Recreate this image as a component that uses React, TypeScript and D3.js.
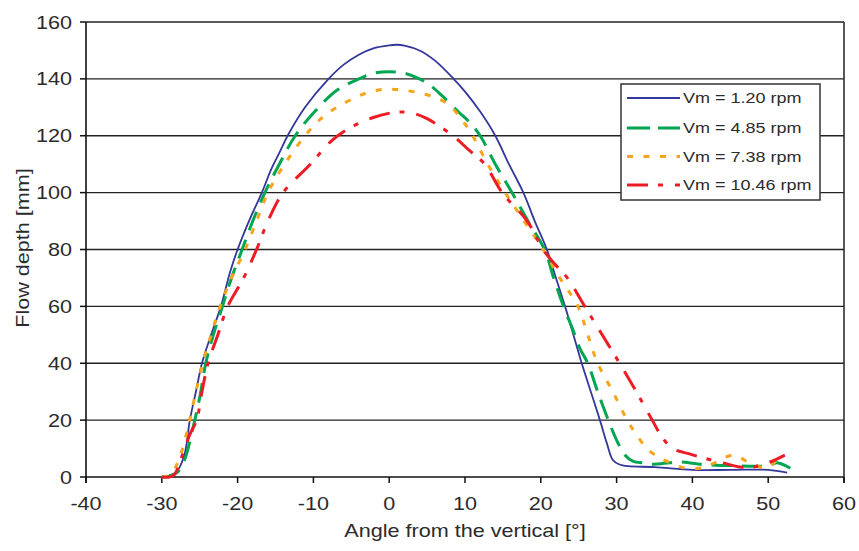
import React from "react";
import * as d3 from "d3";

const xTicks = [-40, -30, -20, -10, 0, 10, 20, 30, 40, 50, 60];
const yTicks = [0, 20, 40, 60, 80, 100, 120, 140, 160];

const seriesNames = ["Vm = 1.20 rpm", "Vm = 4.85 rpm", "Vm = 7.38 rpm", "Vm = 10.46 rpm"];

const vm120: [number, number][] = [
  [-30, 0], [-29, 0.5], [-28, 2], [-27, 8], [-26.3, 20], [-25.5, 30], [-24.7, 40], [-23.5, 50],
  [-22.2, 60], [-21, 72], [-20, 80], [-18.5, 90], [-16.8, 100], [-15.6, 108], [-14.5, 114],
  [-13.4, 120], [-11.1, 130], [-8, 140], [-6, 145], [-4, 148.5], [-2, 150.8], [0, 151.8],
  [1, 152], [2, 151.7], [4, 150], [6, 146.5], [8.5, 140], [10, 135.5], [12, 128.5],
  [14, 120], [15.8, 110], [17.7, 100], [19.2, 90], [20.8, 80], [22, 70], [23.2, 60],
  [24.3, 50], [25.4, 40], [26.6, 30], [27.8, 20], [28.7, 12], [29.5, 6], [30.3, 4.5],
  [31.5, 3.8], [35, 3.5], [40, 2.5], [45, 2.5], [50, 2.5], [52.5, 1.5],
];

const vm485: [number, number][] = [
  [-30, 0], [-29, 0.3], [-28, 1.5], [-27, 6], [-26, 16], [-25, 28], [-24.2, 40], [-23.2, 50],
  [-22, 60], [-20.8, 70], [-19.4, 80], [-18, 90], [-16.4, 100], [-14.5, 110], [-12.4, 120],
  [-10, 128], [-6.9, 136], [-4, 140], [-2, 142], [0, 142.5], [2, 142], [4, 140], [5.4, 137.8],
  [7, 134], [9.3, 128], [10.5, 125], [12, 120], [14, 110], [16.2, 100], [18.3, 90], [20.5, 80],
  [21.7, 70], [23, 60], [24.2, 52], [25.2, 45], [26.2, 40], [27.5, 30], [28.9, 20], [30, 13],
  [31, 8], [32.2, 5.5], [33.5, 5], [34.7, 4.5], [37, 5], [38.4, 5.3], [41, 4.5], [45, 4],
  [50, 4], [51.2, 5], [53.3, 2.5],
];

const vm738: [number, number][] = [
  [-30, 0], [-29.3, 0.3], [-28.5, 2], [-27.5, 8], [-26.5, 18], [-25.5, 30], [-24.6, 40],
  [-23.5, 50], [-22.3, 60], [-20.8, 70], [-19, 80], [-17.5, 90], [-16, 100], [-13.8, 110],
  [-11.1, 120], [-9, 126], [-6.9, 130], [-4, 134], [-2, 135.8], [0, 136.4], [2, 136],
  [4, 135], [6, 133.5], [7.8, 131], [9.5, 126], [11, 120], [13, 110], [15.3, 100], [17.8, 90],
  [20.3, 80], [22.5, 70], [24.9, 60], [26.2, 50], [27.5, 40], [29.5, 30], [31.4, 20],
  [32.6, 15], [34, 10], [35.5, 7], [36.8, 5.3], [39, 3.2], [41.3, 3.2], [43.2, 5.3],
  [45.4, 7.7], [47.6, 4.9], [49.8, 3.2], [50.9, 5.3], [51.5, 6],
];

const vm1046: [number, number][] = [
  [-30, 0], [-29, 0], [-28.3, 1], [-27.2, 8.4], [-26.3, 15], [-25.4, 20], [-24.7, 30],
  [-23.9, 40], [-22.6, 50], [-21.3, 60], [-19.2, 70], [-17.5, 80], [-16, 90], [-14, 100],
  [-10.4, 110], [-7.5, 118.5], [-5, 123], [-2, 126.5], [1, 128.3], [3, 128], [5, 126],
  [8.4, 120], [10.5, 115], [12.6, 110], [14.9, 100], [18.2, 90], [20.3, 80], [21.8, 75],
  [23.5, 70], [25.8, 60], [28.1, 50], [30.4, 40], [32.6, 30], [34.7, 20], [36, 14],
  [37.4, 10], [39.5, 8.2], [41.6, 6.6], [44, 5], [46.3, 3.5], [48, 3.5], [50, 5], [52.2, 7.7],
];

const seriesData = [vm120, vm485, vm738, vm1046];
const seriesStyle = [
  { color: "#33379a", width: 1.8, dash: "none", legendDash: "none" },
  { color: "#00a651", width: 3, dash: "20,10", legendDash: "23,8" },
  { color: "#f7a41d", width: 3, dash: "6,10.5", legendDash: "6,10.5" },
  { color: "#ed1c24", width: 3, dash: "21,10,5,12", legendDash: "21,10,5,12" },
];

const W = 859;
const H = 551;
const textColor = "#2b2b2b";
const font = "'Liberation Sans', Arial, sans-serif";

function SText({ x, y, anchor = "start", size, rotate = 0, children }: any) {
  return (
    <g transform={`translate(${x},${y}) rotate(${rotate}) scale(1.2,1)`}>
      <text textAnchor={anchor} fontSize={size} fontFamily={font} fill={textColor}>
        {children}
      </text>
    </g>
  );
}

export default function App() {
  const x = d3.scaleLinear().domain([-40, 60]).range([86, 844]);
  const y = d3.scaleLinear().domain([0, 160]).range([477, 22]);
  const line = d3
    .line<[number, number]>()
    .x((d) => x(d[0]))
    .y((d) => y(d[1]))
    .curve(d3.curveCatmullRom.alpha(0.5));

  const lgX = 621, lgY = 84, lgW = 199, lgH = 116;
  const lgRows = [98, 128, 156.5, 185];

  return (
    <svg width={W} height={H} style={{ position: "absolute", left: 0, top: 0, background: "#fff" }}>
      <rect x={0} y={0} width={W} height={H} fill="#fff" />
      {yTicks.filter((t) => t > 0).map((t) => (
        <line key={"g" + t} x1={x(-40)} x2={x(60)} y1={y(t)} y2={y(t)} stroke="#222" strokeWidth={1.3} />
      ))}
      <line x1={x(60)} x2={x(60)} y1={y(160)} y2={y(0) + 6} stroke="#222" strokeWidth={1.5} />
      <line x1={x(-40)} x2={x(-40)} y1={y(160)} y2={y(0) + 6} stroke="#111" strokeWidth={1.6} />
      <line x1={x(-40)} x2={x(60)} y1={y(0)} y2={y(0)} stroke="#111" strokeWidth={1.6} />
      {yTicks.map((t) => (
        <line key={"yt" + t} x1={x(-40) - 6} x2={x(-40)} y1={y(t)} y2={y(t)} stroke="#111" strokeWidth={1.5} />
      ))}
      {xTicks.map((t) => (
        <line key={"xt" + t} x1={x(t)} x2={x(t)} y1={y(0)} y2={y(0) + 6} stroke="#111" strokeWidth={1.5} />
      ))}
      {yTicks.map((t) => (
        <SText key={"yl" + t} x={72} y={y(t) + 6.5} anchor="end" size={18}>{t}</SText>
      ))}
      {xTicks.map((t) => (
        <SText key={"xl" + t} x={x(t)} y={510} anchor="middle" size={18}>{t}</SText>
      ))}
      <SText x={465} y={537} anchor="middle" size={18}>Angle from the vertical [°]</SText>
      <SText x={29} y={248} anchor="middle" size={18} rotate={-90}>Flow depth [mm]</SText>

      {seriesData.map((d, i) => (
        <path
          key={"s" + i}
          d={line(d) || ""}
          fill="none"
          stroke={seriesStyle[i].color}
          strokeWidth={seriesStyle[i].width}
          strokeDasharray={seriesStyle[i].dash}
          strokeLinejoin="round"
        />
      ))}

      <rect x={lgX} y={lgY} width={lgW} height={lgH} fill="#fff" stroke="#333" strokeWidth={1.5} />
      {seriesNames.map((n, i) => (
        <g key={"lg" + i}>
          <line
            x1={627}
            x2={680}
            y1={lgRows[i]}
            y2={lgRows[i]}
            stroke={seriesStyle[i].color}
            strokeWidth={seriesStyle[i].width}
            strokeDasharray={seriesStyle[i].legendDash}
          />
          <SText x={683} y={lgRows[i] + 5} size={15}>{n}</SText>
        </g>
      ))}
    </svg>
  );
}
